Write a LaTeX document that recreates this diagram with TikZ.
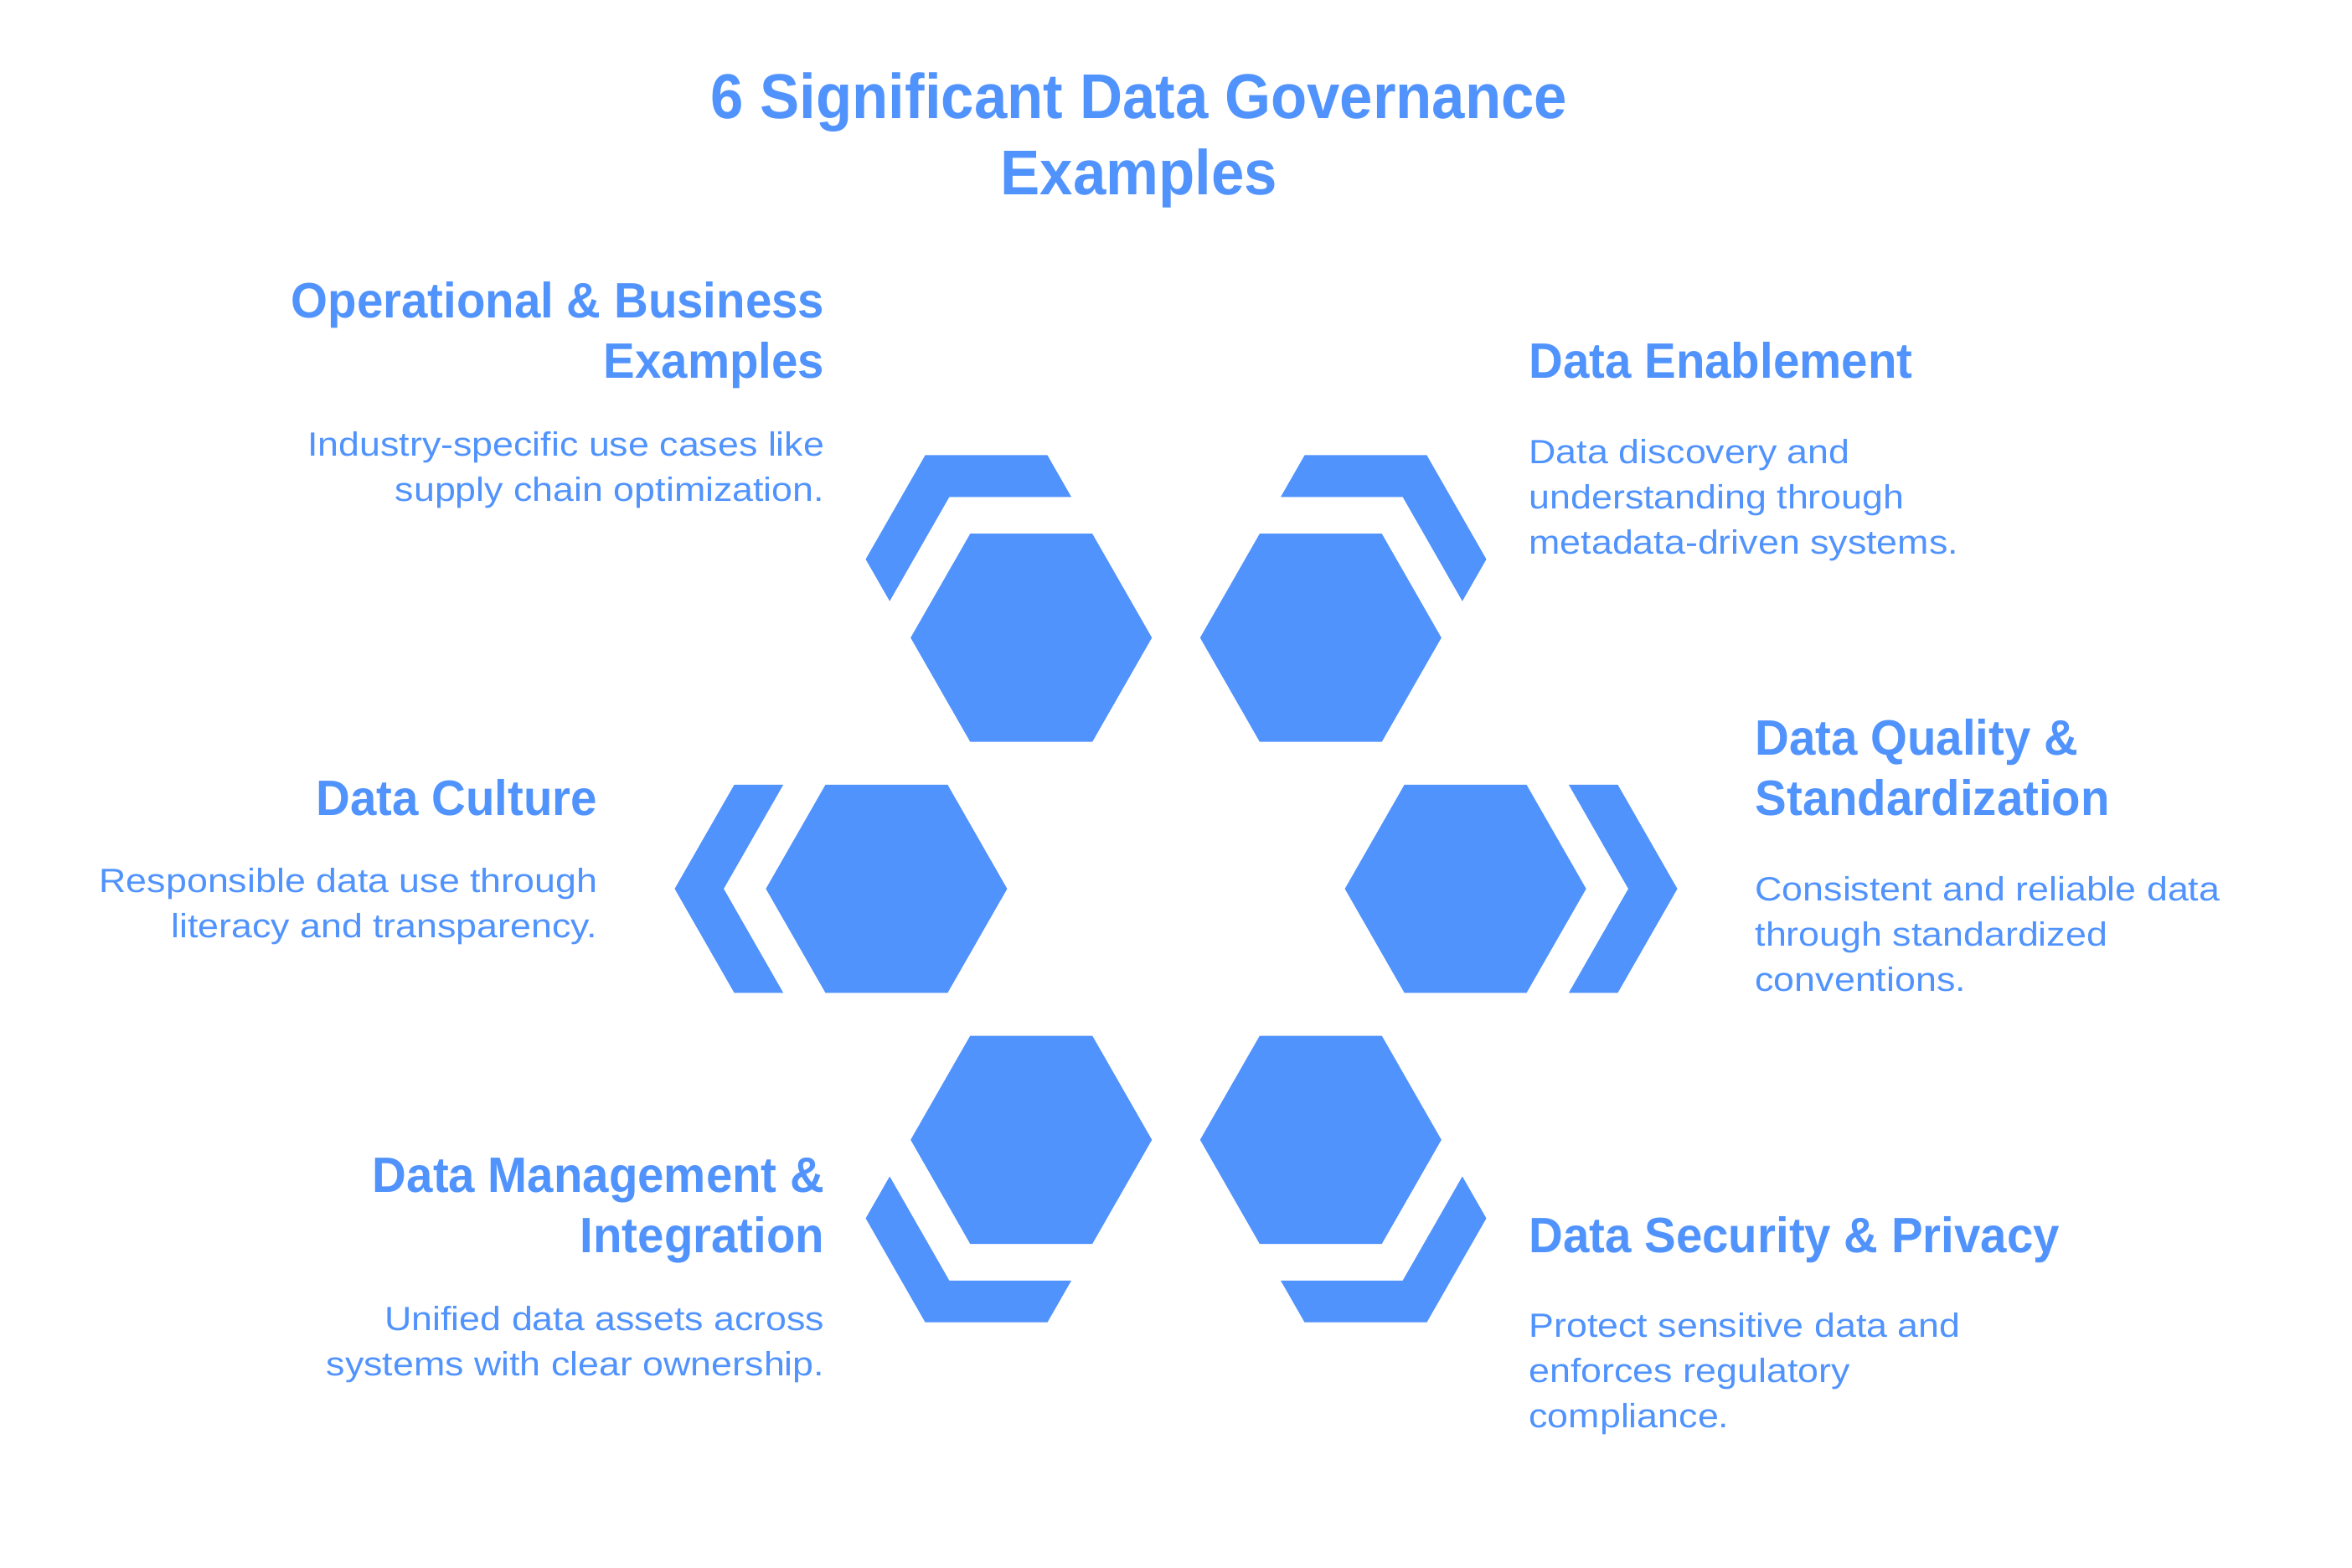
\documentclass[tikz,border=0pt]{standalone}
\usepackage{fontspec}
\setmainfont{Liberation Sans}
\newfontfamily\titlefont[FakeStretch=0.936]{Liberation Sans}
\newfontfamily\headfont[FakeStretch=0.95]{Liberation Sans}
\newfontfamily\bodyfont[FakeStretch=1.115]{Liberation Sans}
\definecolor{hexblue}{RGB}{81,147,253}
\tikzset{
  hexa/.pic={\fill[hexblue] (-80,0)--(-40.5,-69)--(40.5,-69)--(80,0)--(40.5,69)--(-40.5,69)--cycle;},
  diagbr/.pic={\fill[hexblue] (-109.81,-52.07)--(-70.31,-121.07)--(10.69,-121.07)--(26.59,-93.30)--(-54.41,-93.30)--(-93.91,-24.30)--cycle;},
  sidebr/.pic={\fill[hexblue] (-101,-69)--(-140.5,0)--(-101,69)--(-68.5,69)--(-108,0)--(-68.5,-69)--cycle;},
  titletxt/.style={inner sep=0pt, text=hexblue, font=\titlefont\bfseries\fontsize{42}{50.3}\selectfont},
  headtxt/.style={inner sep=0pt, text=hexblue, font=\headfont\bfseries\fontsize{33}{40}\selectfont},
  bodytxt/.style={inner sep=0pt, text=hexblue, font=\bodyfont\fontsize{22.3}{30}\selectfont},
}
\begin{document}
\begin{tikzpicture}[x=1pt,y=-1pt]
\useasboundingbox[fill=white] (0,0) rectangle (1560,1040);

% title
\node[titletxt, anchor=base] (title) at (755.5,78.7)
  {\begin{tabular}[t]{@{}c@{}}6 Significant Data Governance\\Examples\end{tabular}};

% hexagons
\pic at (684,423) {hexa};
\pic at (876,423) {hexa};
\pic at (588,589.5) {hexa};
\pic at (972,589.5) {hexa};
\pic at (684,756) {hexa};
\pic at (876,756) {hexa};

% outer brackets
\pic at (684,423) {diagbr};
\pic[xscale=-1] at (876,423) {diagbr};
\pic[yscale=-1] at (684,756) {diagbr};
\pic[xscale=-1,yscale=-1] at (876,756) {diagbr};
\pic at (588,589.5) {sidebr};
\pic[xscale=-1] at (972,589.5) {sidebr};

% top left
\node[headtxt, anchor=base east] (tlhead) at (547,211.1)
  {\begin{tabular}[t]{@{}r@{}}Operational \& Business\\Examples\end{tabular}};
\node[bodytxt, anchor=base east] (tlbody) at (547,302.4)
  {\begin{tabular}[t]{@{}r@{}}Industry-specific use cases like\\supply chain optimization.\end{tabular}};

% top right
\node[headtxt, anchor=base west] (trhead) at (1014,250.9)
  {\begin{tabular}[t]{@{}l@{}}Data Enablement\end{tabular}};
\node[bodytxt, anchor=base west] (trbody) at (1014,307.4)
  {\begin{tabular}[t]{@{}l@{}}Data discovery and\\understanding through\\metadata-driven systems.\end{tabular}};

% middle left
\node[headtxt, anchor=base east] (mlhead) at (396.5,541.1)
  {\begin{tabular}[t]{@{}r@{}}Data Culture\end{tabular}};
\node[bodytxt, anchor=base east] (mlbody) at (396.5,592)
  {\begin{tabular}[t]{@{}r@{}}Responsible data use through\\literacy and transparency.\end{tabular}};

% middle right
\node[headtxt, anchor=base west] (mrhead) at (1164,500.9)
  {\begin{tabular}[t]{@{}l@{}}Data Quality \&\\Standardization\end{tabular}};
\node[bodytxt, anchor=base west] (mrbody) at (1164,597.6)
  {\begin{tabular}[t]{@{}l@{}}Consistent and reliable data\\through standardized\\conventions.\end{tabular}};

% bottom left
\node[headtxt, anchor=base east] (blhead) at (547,791.1)
  {\begin{tabular}[t]{@{}r@{}}Data Management \&\\Integration\end{tabular}};
\node[bodytxt, anchor=base east] (blbody) at (547,882.4)
  {\begin{tabular}[t]{@{}r@{}}Unified data assets across\\systems with clear ownership.\end{tabular}};

% bottom right
\node[headtxt, anchor=base west] (brhead) at (1014,831.1)
  {\begin{tabular}[t]{@{}l@{}}Data Security \& Privacy\end{tabular}};
\node[bodytxt, anchor=base west] (brbody) at (1014,886.8)
  {\begin{tabular}[t]{@{}l@{}}Protect sensitive data and\\enforces regulatory\\compliance.\end{tabular}};
\end{tikzpicture}
\end{document}
